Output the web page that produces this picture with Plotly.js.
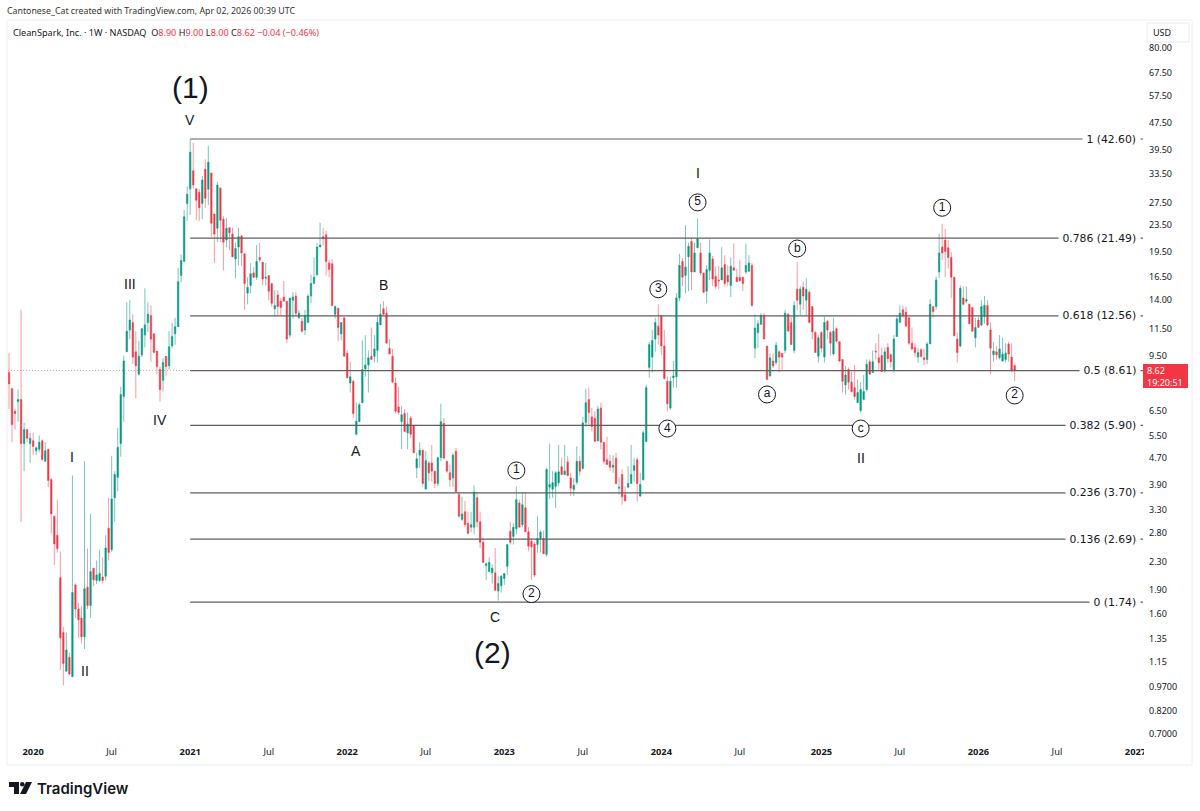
<!DOCTYPE html>
<html><head><meta charset="utf-8">
<script src="https://cdn.plot.ly/plotly-3.0.1.min.js"></script>
<style>html,body{margin:0;padding:0;background:#fff}#c{width:1200px;height:811px}</style></head>
<body><div id="c"></div>
<script>
const firstWeek = '2019-11-11';
const opens = [8.5,7.6,6.5,6.95,7.05,5.2,5.73,5.2,5.3,4.95,5.0,5.3,4.6,5.0,4.06,3.15,2.76,2.06,1.41,1.08,1.19,1.04,1.96,1.66,1.56,1.37,1.93,1.7,2.2,2.02,2.02,2.07,2.08,2.9,2.5,3.58,4.12,5.2,7.2,9.8,11.4,12.0,9.8,8.4,9.6,11.0,12.0,12.6,11.1,9.85,8.67,8.05,9.5,8.9,10.2,11.1,11.65,16.6,18.3,27.3,30.2,34.2,30.2,29.5,27.3,34.6,30.1,33.7,25.4,23.0,30.4,24.5,21.2,23.1,22.1,18.6,20.2,21.8,19.3,14.7,15.5,16.9,16.4,18.8,18.2,16.3,16.6,15.7,13.2,14.5,13.9,14.3,13.9,11.0,14.0,14.4,12.4,12.1,11.4,12.0,14.4,15.7,16.7,20.2,21.7,22.0,18.1,18.0,12.7,13.25,11.1,12.4,9.7,7.9,8.0,5.55,6.05,6.9,8.7,8.95,9.5,9.5,9.9,11.8,13.2,12.8,10.05,9.5,7.9,6.7,6.05,6.4,5.6,6.2,5.9,4.4,4.8,4.97,3.8,4.55,4.55,4.3,3.95,4.72,5.98,4.6,4.25,4.1,4.93,3.66,3.08,3.25,3.0,2.92,2.92,3.58,3.03,2.63,2.24,2.15,2.13,2.13,1.88,1.95,2.05,2.23,2.84,2.74,2.89,3.45,2.97,3.34,2.83,2.65,2.6,2.59,2.7,2.7,2.42,3.85,3.8,3.87,3.97,4.43,4.2,4.58,4.1,3.79,3.98,4.6,4.38,6.02,7.05,6.25,6.2,5.3,6.65,5.25,4.65,4.6,4.42,4.7,3.82,4.2,3.65,3.85,3.95,4.32,4.65,3.62,4.05,5.28,8.8,9.45,10.7,11.7,12.6,10.2,8.0,6.65,8.2,8.25,14.2,18.3,16.6,18.9,21.0,17.0,20.1,19.4,16.9,14.9,17.2,18.6,16.5,16.1,16.1,17.9,16.6,15.5,17.5,16.4,16.4,16.4,17.0,17.1,17.8,10.05,11.2,11.85,12.6,10.2,8.3,9.2,9.1,9.8,9.7,9.9,12.7,12.0,9.9,15.1,13.6,15.3,14.0,14.8,13.4,11.2,9.5,11.2,9.45,12.1,11.2,9.65,11.5,10.5,9.3,7.8,8.67,7.95,7.65,6.9,6.53,7.05,7.55,9.15,8.5,9.85,9.4,9.55,8.6,10.1,9.6,8.67,10.9,12.0,13.1,12.9,12.4,10.4,10.1,9.45,9.95,9.4,9.3,10.35,13.4,13.4,17.0,20.2,21.2,20.1,18.8,16.4,10.7,10.2,14.2,13.9,13.6,13.3,10.8,12.2,11.8,12.5,13.5,11.4,9.6,9.8,9.4,9.2,9.3,10.35,9.45,8.90];
const highs = [9.7,7.65,6.6,7.55,13.1,6.0,5.73,5.6,5.6,5.1,5.5,5.35,5.25,5.0,4.1,3.15,3.53,2.47,1.47,1.41,1.23,4.17,1.98,1.73,1.69,4.6,2.52,3.2,2.2,2.32,2.5,2.37,2.76,3.58,4.78,4.3,5.8,7.7,9.55,13.8,14.0,12.7,11.3,10.55,11.55,15.2,13.8,13.5,11.1,9.85,8.85,9.4,9.5,11.3,12.0,12.4,17.5,19.2,26.1,30.8,42.6,41.5,30.2,30.2,33.0,37.0,40.7,33.7,25.4,31.7,30.4,25.0,24.7,23.1,23.1,20.8,23.1,22.0,19.3,16.4,18.1,17.6,20.5,20.8,18.2,18.1,16.6,15.7,15.0,15.0,14.2,16.0,13.9,14.2,14.8,14.8,13.1,12.4,13.1,14.6,16.7,18.8,20.8,23.9,23.0,22.6,18.5,18.6,13.5,13.25,12.0,12.4,9.9,9.15,8.05,6.9,6.9,10.6,11.0,9.9,11.6,11.0,12.5,13.6,13.9,13.4,10.7,10.0,8.2,7.7,6.75,6.6,6.45,6.3,5.9,4.88,5.25,4.97,4.93,4.6,5.15,4.3,4.75,6.85,6.2,4.6,4.5,4.88,5.05,3.73,3.6,3.5,3.25,3.25,3.9,3.73,3.25,2.72,2.29,2.37,2.26,2.53,2.08,2.1,2.12,2.59,3.03,3.0,3.87,3.53,3.72,3.72,2.92,2.7,2.63,3.15,2.85,2.85,4.4,5.2,4.3,4.3,5.15,4.72,5.15,4.78,4.25,4.1,5.1,4.78,6.25,7.6,7.65,6.65,6.5,6.75,6.9,5.25,5.45,4.82,4.8,4.88,4.12,4.35,3.87,4.45,5.15,4.72,4.72,4.25,5.7,7.8,10.5,11.4,12.4,13.6,12.6,11.4,8.25,8.25,9.2,14.7,19.3,18.7,23.5,20.8,21.4,20.8,24.6,20.8,16.9,17.8,21.3,19.0,17.7,17.7,20.2,19.1,17.8,18.8,20.7,17.4,18.5,16.4,20.7,19.1,18.1,12.7,12.2,12.8,12.8,10.2,9.7,9.7,10.5,9.9,9.7,13.1,12.8,12.5,13.9,18.2,15.4,15.9,16.3,15.0,13.4,11.3,11.0,11.3,12.5,12.2,11.3,12.4,11.6,10.55,9.3,8.9,8.8,8.55,8.95,8.1,7.95,8.35,9.3,9.3,9.9,10.4,11.1,10.1,10.1,10.4,9.7,11.0,12.6,13.5,13.5,13.4,12.4,11.6,10.4,10.05,10.05,10.0,10.5,14.1,13.4,16.5,22.1,23.7,22.9,21.2,19.5,16.4,11.2,15.5,15.4,15.4,13.7,13.3,12.4,12.5,14.0,14.4,14.0,12.0,10.5,10.2,11.0,10.8,10.4,10.5,10.4,9.00];
const lows = [6.6,5.25,5.73,6.05,3.03,4.3,5.25,4.55,4.8,4.8,4.9,4.6,4.6,3.85,2.8,2.25,2.45,1.09,0.98,1.08,1.05,1.04,1.56,1.36,1.31,1.26,1.66,1.56,1.94,1.97,2.0,1.98,2.02,2.32,2.46,3.03,3.74,4.75,6.05,9.8,10.7,9.0,7.1,8.3,9.45,10.1,11.25,9.15,9.75,8.4,6.95,7.45,8.3,8.67,10.05,10.3,11.65,15.8,18.3,24.2,25.2,30.2,24.3,24.2,24.5,26.5,27.0,21.7,18.1,20.9,20.9,17.2,20.2,19.8,18.8,16.3,17.8,17.7,13.1,13.6,14.7,16.3,16.1,18.2,15.5,15.5,14.0,13.4,12.5,12.6,12.6,13.9,10.4,10.8,12.35,12.6,12.3,11.2,11.0,12.0,13.7,15.7,16.6,20.2,20.4,16.6,16.4,13.4,12.35,10.55,10.6,9.5,8.15,7.4,6.2,5.5,6.05,6.9,8.25,7.4,9.3,9.1,9.1,11.8,12.6,10.4,9.65,7.95,6.4,6.35,5.0,5.65,5.0,5.4,4.88,4.1,4.4,3.87,3.79,4.0,4.0,3.82,3.87,4.6,4.7,4.25,3.85,3.85,3.73,3.12,3.05,2.92,2.78,2.82,2.78,2.92,2.53,2.29,2.03,2.15,1.98,1.88,1.76,1.86,1.96,2.1,2.59,2.59,2.78,2.92,2.92,2.83,2.47,2.03,2.07,2.45,2.45,2.43,2.38,3.55,3.58,3.33,3.87,4.2,4.18,4.15,3.62,3.62,3.92,4.17,4.35,5.85,5.93,5.65,5.28,5.28,5.0,4.5,4.5,4.3,4.25,3.92,3.66,3.41,3.5,3.82,3.95,4.0,3.48,3.6,4.03,5.25,8.2,8.5,9.8,10.3,9.6,8.1,6.5,6.55,7.65,7.65,13.9,15.4,14.7,14.9,15.0,17.0,20.1,16.6,14.7,13.7,16.1,15.4,15.1,15.1,16.1,15.4,15.4,14.3,17.2,15.9,15.9,14.9,16.8,17.0,13.4,9.4,10.05,11.8,10.7,8.1,8.25,8.75,8.95,8.5,8.67,9.7,11.3,10.3,9.7,13.1,12.6,13.1,12.6,12.0,10.7,9.75,9.1,9.75,9.1,10.7,9.55,9.55,10.45,9.15,7.4,7.3,7.55,7.4,7.05,6.9,6.45,7.05,7.45,8.4,8.5,9.3,8.67,8.55,8.5,9.1,8.8,8.5,10.85,12.0,12.4,11.7,10.3,9.9,9.45,9.1,9.4,8.95,9.0,10.35,12.4,13.1,16.3,18.5,16.4,17.4,14.2,10.9,9.1,10.1,13.5,13.7,11.9,11.25,10.1,11.6,11.7,11.9,11.7,8.4,9.15,9.3,9.3,9.15,9.1,9.15,8.5,8.00];
const closes = [7.85,5.93,6.4,7.05,5.2,5.73,5.4,5.4,5.1,5.05,5.25,4.66,4.95,4.03,3.2,2.6,2.52,1.36,1.14,1.25,1.06,1.86,1.66,1.54,1.37,1.91,1.7,2.15,2.03,2.1,2.12,2.02,2.53,2.45,3.55,4.2,5.07,7.3,9.2,11.3,12.2,9.45,8.9,9.5,11.5,11.8,12.7,10.7,9.75,8.85,7.55,9.1,8.85,10.15,10.9,11.65,15.9,18.4,24.9,29.1,38.9,31.0,27.9,26.5,32.1,28.3,36.3,23.8,22.1,31.0,24.3,20.9,23.0,22.3,18.9,20.0,21.7,19.4,15.7,15.3,16.8,16.4,18.3,18.5,16.2,16.4,14.9,13.7,13.5,13.4,13.3,13.9,10.7,14.2,14.3,12.8,12.8,11.3,12.6,14.4,15.7,16.4,20.2,20.5,21.4,18.3,17.3,13.5,13.4,11.6,12.0,9.5,8.2,8.25,6.4,6.07,6.8,8.67,8.95,9.4,9.3,10.0,12.0,12.7,12.7,10.4,9.65,7.95,6.5,6.45,6.35,5.65,5.95,5.55,4.88,4.68,4.97,3.95,4.62,4.25,4.3,3.95,4.72,6.05,4.7,4.3,4.05,4.8,3.73,3.15,3.2,2.97,2.8,2.97,3.72,3.03,2.63,2.29,2.27,2.29,2.2,1.89,1.98,2.08,2.12,2.59,2.63,2.92,3.53,2.92,3.41,2.83,2.56,2.55,2.1,2.7,2.82,2.43,4.35,3.92,3.97,4.25,4.28,4.2,4.3,4.17,3.82,3.9,4.6,4.3,6.0,6.9,6.45,5.85,5.28,6.6,5.25,4.6,4.5,4.42,4.48,3.95,3.85,3.6,3.5,3.95,4.2,4.47,3.95,3.92,5.6,7.65,10.3,10.6,12.0,11.0,10.2,8.15,6.85,8.0,8.3,14.2,17.8,16.4,17.6,20.3,17.0,19.4,21.4,16.9,14.8,17.3,19.4,16.2,15.4,16.0,17.5,15.7,15.9,17.7,17.2,15.9,16.0,15.7,17.8,18.1,13.5,11.55,11.9,12.6,10.7,8.1,9.4,8.9,10.25,9.45,9.45,12.8,11.3,10.3,13.5,14.0,15.1,14.4,15.1,12.0,11.25,9.75,10.8,10.05,12.0,11.4,10.4,11.3,10.55,9.2,8.0,8.35,7.95,7.45,7.2,7.4,7.55,7.45,9.0,8.4,9.15,9.8,9.1,8.55,9.8,9.35,9.15,10.7,12.3,12.8,12.6,11.7,10.4,10.0,9.75,9.75,9.5,9.3,10.35,13.6,12.95,16.1,19.4,19.4,19.6,18.8,16.4,10.95,9.75,15.2,13.6,14.05,11.9,11.3,11.6,11.6,13.4,13.5,11.8,10.05,9.85,9.6,10.0,9.65,9.7,9.65,8.61,8.62];

const priceTicks = [80,67.5,57.5,47.5,39.5,33.5,27.5,23.5,19.5,16.5,14,11.5,9.5,6.5,5.5,4.7,3.9,3.3,2.8,2.3,1.9,1.6,1.35,1.15,0.97,0.82,0.70];
const priceTickLabels = ['80.00','67.50','57.50','47.50','39.50','33.50','27.50','23.50','19.50','16.50','14.00','11.50','9.50','6.50','5.50','4.70','3.90','3.30','2.80','2.30','1.90','1.60','1.35','1.15','0.9700','0.8200','0.7000'];
const timeTicks = ['2020-01-06','2020-07-06','2021-01-04','2021-07-05','2022-01-03','2022-07-04','2023-01-02','2023-07-03','2024-01-01','2024-07-01','2025-01-06','2025-07-07','2026-01-05','2026-07-06','2027-01-04'];
const timeTickLabels = ['<b>2020</b>','Jul','<b>2021</b>','Jul','<b>2022</b>','Jul','<b>2023</b>','Jul','<b>2024</b>','Jul','<b>2025</b>','Jul','<b>2026</b>','Jul','<b>2027</b>'];
const fibRatios = ['1','0.786','0.618','0.5','0.382','0.236','0.136','0'];
const fibPrices = [42.60,21.49,12.56,8.61,5.90,3.70,2.69,1.74];
const waveText = ['(1)','V','III','IV','I','II','A','B','C','(2)','I','II'];
const waveWeek = [60,60,40,50,21,25,115,124,161,160,228,282];
const wavePrice = [60.6,48.6,15.7,6.14,4.73,1.08,4.93,15.5,1.57,1.23,33.7,4.7];
const waveSize = [30,14,14,14,14,14,14,14,14,30,14,14];
const circleText = ['1','2','3','4','5','a','b','c','1','2'];
const circleWeek = [168,173,215,218,228,251,261,282,309,333];
const circlePrice = [4.32,1.84,15.1,5.77,27.5,7.3,20.0,5.77,26.5,7.25];
const lastPrice = 8.62;

const DAY = 864e5;
const t0 = Date.parse(firstWeek + 'T00:00:00Z');
const WK = 7*DAY;
const iso = ms => new Date(ms).toISOString().slice(0,19).replace('T',' ');
const weekDate = i => iso(t0 + i*WK);
const dates = opens.map((_,i)=>weekDate(i));
const L=8,R=1145,T=20,B=745,W=1200,H=811;
const px = x => (x-L)/(R-L), py = y => (B-y)/(B-T);
const xLeft = weekDate((L-9)/3.02), xRight = weekDate((R-9)/3.02), fibEnd = weekDate((1143-9)/3.02);
const fibStart = dates[60];
const RED='#f23645', GRN='#089981';
const sans="'DejaVu Sans',sans-serif", noto="'Noto Sans',sans-serif", lib="'Liberation Sans',sans-serif";

const traces = [];
fibPrices.forEach(p=>traces.push({type:'scatter',mode:'lines',x:[fibStart,fibEnd],y:[p,p],line:{color:'#5e5e5e',width:1.2},hoverinfo:'skip',showlegend:false}));
traces.push({type:'scatter',mode:'lines',x:[xLeft,xRight],y:[lastPrice,lastPrice],line:{color:'rgba(242,54,69,0.6)',width:0.8,dash:'1px,2px'},hoverinfo:'skip',showlegend:false});
traces.push({type:'candlestick',x:dates,open:opens,high:highs,low:lows,close:closes,whiskerwidth:0,
  increasing:{line:{color:'rgba(8,153,129,0.55)',width:1},fillcolor:GRN},
  decreasing:{line:{color:'rgba(242,54,69,0.5)',width:1},fillcolor:RED},hoverinfo:'skip',showlegend:false});
traces.push({type:'scatter',mode:'markers+text',x:circleWeek.map(weekDate),y:circlePrice,text:circleText,textposition:'middle center',
  marker:{symbol:'circle',size:17,color:'#fff',line:{color:'#131722',width:1}},textfont:{family:lib,size:12,color:'#131722'},hoverinfo:'skip',showlegend:false});

const ann = [];
waveText.forEach((t,i)=>ann.push({x:weekDate(waveWeek[i]),y:Math.log10(wavePrice[i]),xref:'x',yref:'y',text:t,showarrow:false,font:{family:lib,size:waveSize[i],color:'#131722'}}));
fibPrices.forEach((p,i)=>ann.push({x:px(1141),xref:'paper',y:Math.log10(p),yref:'y',xanchor:'right',text:' '+fibRatios[i]+' ('+p.toFixed(2)+') ',showarrow:false,bgcolor:'#fff',borderpad:0,font:{family:sans,size:10.8,color:'#131722'}}));
const paperNote=(x,y,text,opt)=>Object.assign({x:px(x),y:py(y),xref:'paper',yref:'paper',xanchor:'left',yanchor:'middle',text,showarrow:false},opt);
ann.push(paperNote(5,11,'Cantonese_Cat created with TradingView.com, Apr 02, 2026 00:39 UTC',{font:{family:noto,size:8.8,color:'#333'}}));
const r=s=>`<span style="color:${RED}">${s}</span>`;
ann.push(paperNote(11,32,`CleanSpark, Inc. · 1W · NASDAQ  O${r('8.90')} H${r('9.00')} L${r('8.00')} C${r('8.62')} ${r('−0.04 (−0.46%)')}`,{font:{family:noto,size:9.1,color:'#131722'}}));
ann.push(paperNote(35,788,'TradingView',{font:{family:'Inter,sans-serif',size:15,weight:600,color:'#131722'}}));
ann.push(paperNote(1151,32,'USD',{font:{family:noto,size:9,color:'#131722'}}));
ann.push(paperNote(1145,376,'8.62<br>19:20:51',{align:'left',font:{family:noto,size:9,color:'#fff'}}));

const box=(x0,y0,x1,y1,o)=>Object.assign({type:'rect',xref:'paper',yref:'paper',x0:px(x0),x1:px(x1),y0:py(y0),y1:py(y1),layer:'above'},o);
const pathP=pts=>'M'+pts.map(([x,y])=>px(x).toFixed(5)+','+py(y).toFixed(5)).join('L')+'Z';
const shapes=[
  box(7,20,1192,765,{line:{color:'#eceef2',width:1},layer:'below'}),
  box(1144,746,1149,764,{fillcolor:'#fff',line:{width:0}}),
  box(1147,23,1189,42,{fillcolor:'#fff',line:{color:'#e8eaf0',width:1}}),
  box(1143,364,1188,388,{fillcolor:RED,line:{width:0}}),
  {type:'path',xref:'paper',yref:'paper',path:pathP([[9,782],[19,782],[19,794],[14,794],[14,787],[9,787]]),fillcolor:'#131722',line:{width:0},layer:'above'},
  {type:'circle',xref:'paper',yref:'paper',x0:px(20),x1:px(24.5),y0:py(782),y1:py(786.5),fillcolor:'#131722',line:{width:0},layer:'above'},
  {type:'path',xref:'paper',yref:'paper',path:pathP([[26,782],[32,782],[26,794],[20,794]]),fillcolor:'#131722',line:{width:0},layer:'above'}
];

Plotly.newPlot('c',traces,{
  width:W,height:H,margin:{l:L,r:W-R,t:T,b:H-B,pad:0},paper_bgcolor:'#fff',plot_bgcolor:'#fff',showlegend:false,hovermode:false,
  xaxis:{type:'date',range:[xLeft,xRight],rangeslider:{visible:false},showgrid:false,zeroline:false,showline:false,ticks:'',tickmode:'array',tickvals:timeTicks,ticktext:timeTickLabels,tickfont:{family:noto,size:9.3,color:'#131722'},automargin:false},
  yaxis:{type:'log',side:'right',range:[-0.1878,1.9863],showgrid:false,zeroline:false,showline:false,ticks:'',ticklabelstandoff:3,tickmode:'array',tickvals:priceTicks,ticktext:priceTickLabels,tickfont:{family:noto,size:9,color:'#131722'},automargin:false},
  annotations:ann,shapes
},{displayModeBar:false,staticPlot:true});
</script></body></html>
